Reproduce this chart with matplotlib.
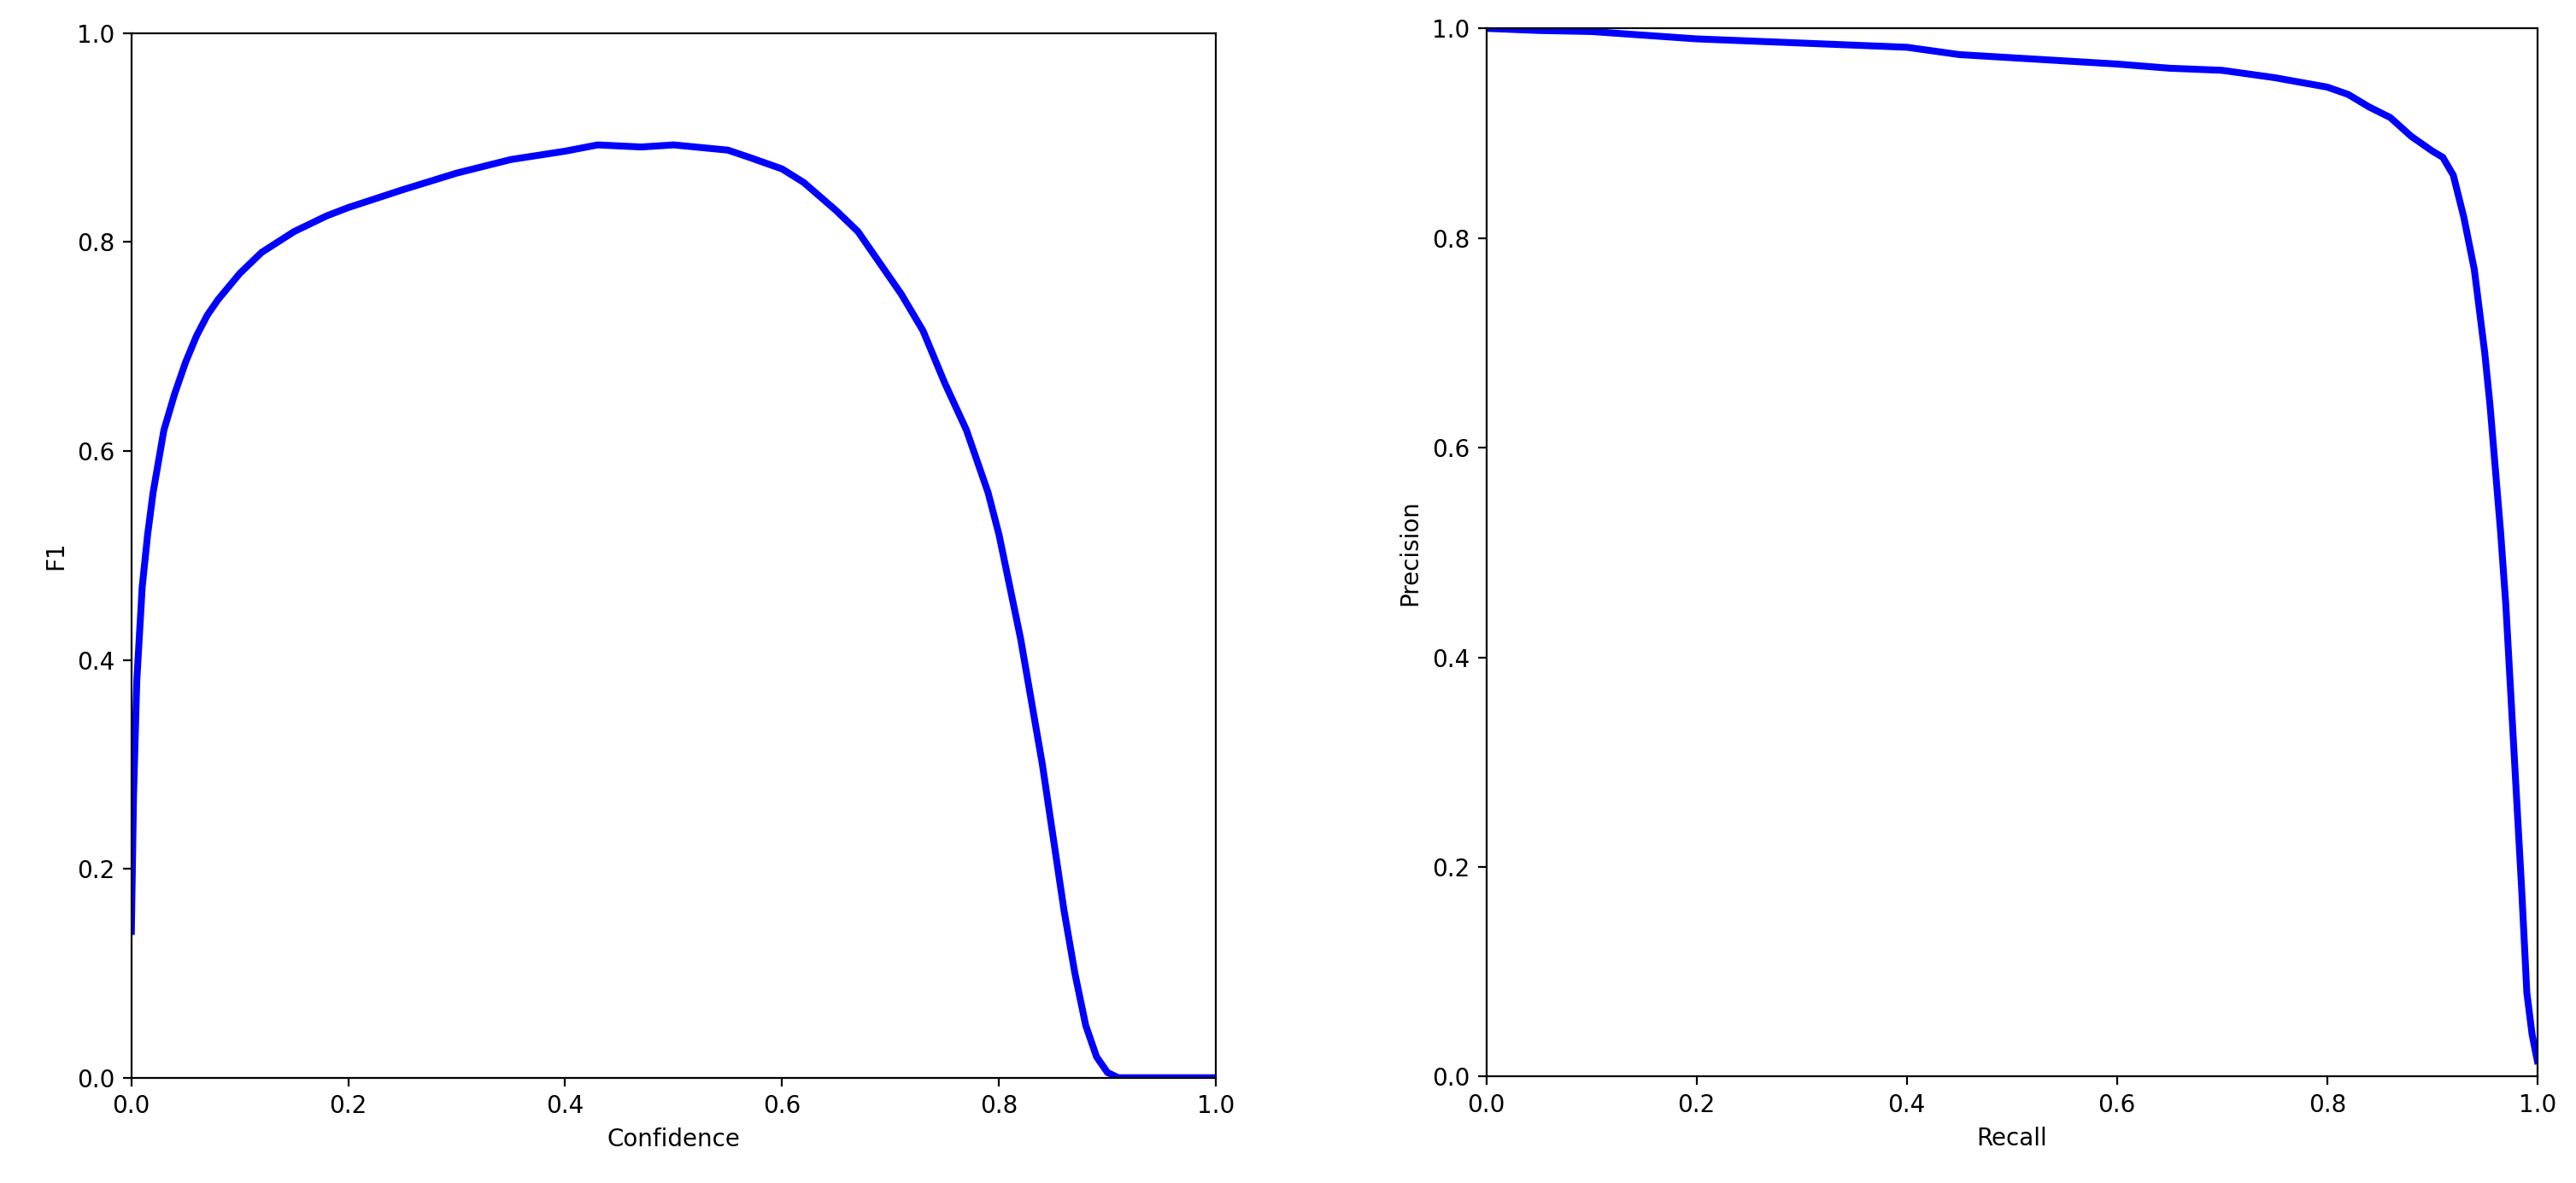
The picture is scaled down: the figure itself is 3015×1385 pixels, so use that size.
import matplotlib
matplotlib.use("Agg")
import matplotlib.pyplot as plt

# F1 vs confidence
conf = [0.0, 0.002, 0.005, 0.01, 0.015, 0.02, 0.03, 0.04, 0.05, 0.06, 0.07, 0.08,
        0.10, 0.12, 0.15, 0.18, 0.20, 0.25, 0.30, 0.35, 0.40, 0.43, 0.47, 0.50,
        0.55, 0.57, 0.60, 0.62, 0.65, 0.67, 0.69, 0.71, 0.73, 0.75, 0.77, 0.79,
        0.80, 0.81, 0.82, 0.83, 0.84, 0.85, 0.86, 0.87, 0.88, 0.89, 0.90, 0.91, 1.0]
f1 = [0.14, 0.27, 0.38, 0.47, 0.52, 0.56, 0.62, 0.655, 0.685, 0.71, 0.73, 0.745,
      0.77, 0.79, 0.81, 0.825, 0.833, 0.85, 0.866, 0.879, 0.887, 0.893, 0.891, 0.893,
      0.888, 0.881, 0.87, 0.857, 0.83, 0.81, 0.78, 0.75, 0.715, 0.665, 0.62, 0.56,
      0.52, 0.47, 0.42, 0.36, 0.30, 0.23, 0.16, 0.10, 0.05, 0.02, 0.005, 0.0, 0.0]

# precision vs recall
recall = [0.0, 0.05, 0.10, 0.20, 0.30, 0.40, 0.45, 0.50, 0.60, 0.65, 0.70, 0.75,
          0.80, 0.82, 0.84, 0.86, 0.88, 0.90, 0.91, 0.92, 0.93, 0.94, 0.945,
          0.95, 0.955, 0.96, 0.965, 0.97, 0.975, 0.98, 0.985, 0.99, 0.995, 1.0]
precision = [1.0, 0.998, 0.997, 0.99, 0.986, 0.982, 0.975, 0.972, 0.966, 0.962,
             0.96, 0.953, 0.944, 0.937, 0.925, 0.915, 0.897, 0.883, 0.877, 0.86,
             0.82, 0.77, 0.73, 0.69, 0.64, 0.58, 0.52, 0.45, 0.36, 0.27, 0.18,
             0.08, 0.04, 0.015]

plt.rcParams['font.size'] = 10
fig = plt.figure(figsize=(15.075, 6.925), dpi=200)
ax1 = fig.add_axes([0.051, 0.089, 0.421, 0.883])
ax2 = fig.add_axes([0.577, 0.090, 0.408, 0.886])

ax1.plot(conf, f1, color='blue', lw=2.9)
ax1.set_xlabel('Confidence')
ax1.set_ylabel('F1')

ax2.plot(recall, precision, color='blue', lw=2.9)
ax2.set_xlabel('Recall')
ax2.set_ylabel('Precision')

for ax in (ax1, ax2):
    ax.set_xlim(0, 1)
    ax.set_ylim(0, 1)

fig.savefig('out.png', dpi=200)
